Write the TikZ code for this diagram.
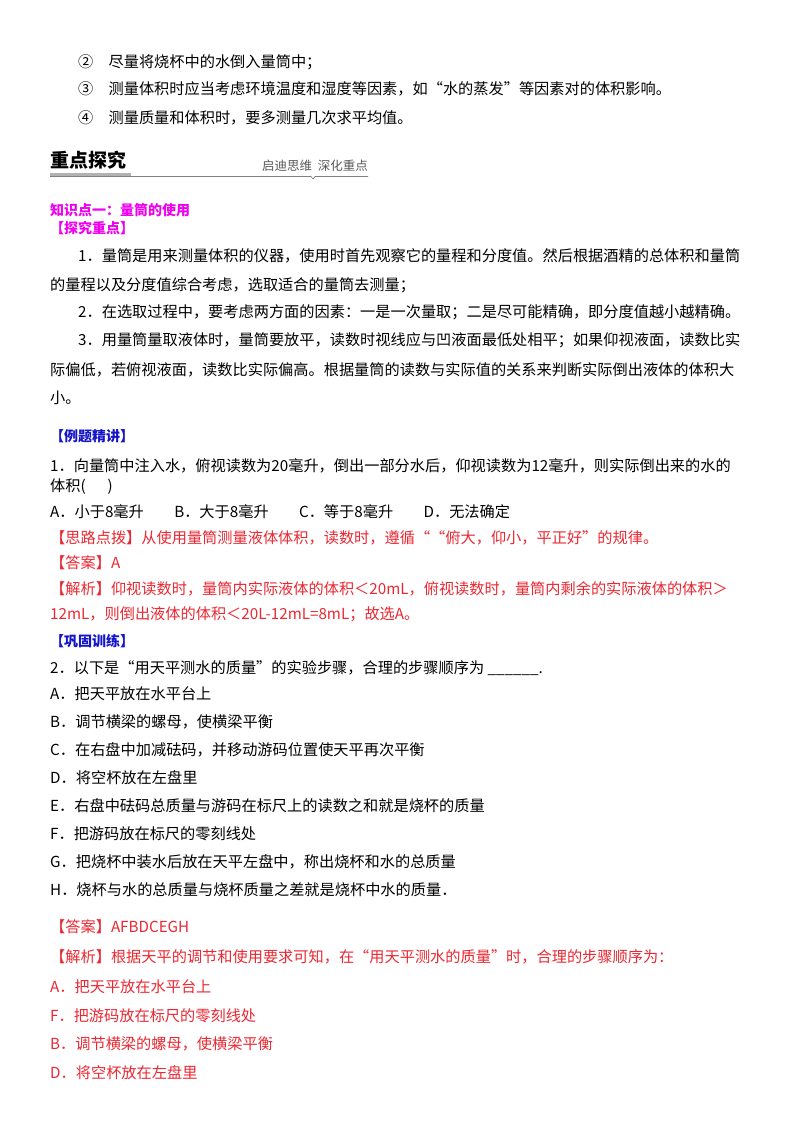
\documentclass[tikz,border=0pt]{standalone}
\usepackage{fontspec}
\setmainfont{Noto Sans CJK SC}
\definecolor{mag}{RGB}{240,0,240}
\definecolor{blu}{RGB}{20,20,200}
\definecolor{rd}{RGB}{235,40,50}
\begin{document}
\begin{tikzpicture}[x=1pt,y=-1pt,
 t/.style={anchor=base west,inner sep=0pt,font=\fontsize{15.2}{16}\selectfont},
 b/.style={t,font=\fontsize{14}{15}\selectfont\bfseries}]
\useasboundingbox[fill=white] (0,0) rectangle (800,1132);
\node[t] (l1) at (78,67) {②\quad 尽量将烧杯中的水倒入量筒中；};
\node[t] (l2) at (78,95) {③\quad 测量体积时应当考虑环境温度和湿度等因素，如“水的蒸发”等因素对的体积影响。};
\node[t] (l3) at (78,123) {④\quad 测量质量和体积时，要多测量几次求平均值。};
\node[anchor=base west,inner sep=0pt,font=\fontsize{19}{20}\selectfont\bfseries] (h) at (50,167) {重点探究};
\node[anchor=base east,inner sep=0pt,font=\fontsize{12.5}{13}\selectfont,text=gray!70!black] (h2) at (368,170) {启迪思维\ \ 深化重点};
\fill[gray!60] (50,173) rectangle (131,176);
\draw[gray,line width=0.6pt] (50,176.5) -- (311,176.5) -- (313,179) -- (315,176.5) -- (368,176.5);
\node[b,text=mag] (k) at (50,215) {知识点一：量筒的使用};
\node[b,text=mag] (k2) at (50,233) {【探究重点】};
\node[t] (p1) at (78,261) {1．量筒是用来测量体积的仪器，使用时首先观察它的量程和分度值。然后根据酒精的总体积和量筒};
\node[t] (p1b) at (50,290) {的量程以及分度值综合考虑，选取适合的量筒去测量；};
\node[t] (p2) at (78,317) {2．在选取过程中，要考虑两方面的因素：一是一次量取；二是尽可能精确，即分度值越小越精确。};
\node[t] (p3) at (78,345) {3．用量筒量取液体时，量筒要放平，读数时视线应与凹液面最低处相平；如果仰视液面，读数比实};
\node[t] (p3b) at (50,375) {际偏低，若俯视液面，读数比实际偏高。根据量筒的读数与实际值的关系来判断实际倒出液体的体积大};
\node[t] (p3c) at (50,403) {小。};
\node[b,text=blu] (e) at (50,441) {【例题精讲】};
\node[t] (q1) at (50,471) {1．向量筒中注入水，俯视读数为20毫升，倒出一部分水后，仰视读数为12毫升，则实际倒出来的水的};
\node[t] (q1b) at (50,491) {体积(\quad\ \ )};
\node[t] (q1c) at (50,517) {A．小于8毫升\qquad B．大于8毫升\qquad C．等于8毫升\qquad D．无法确定};
\begin{scope}[every node/.append style={text=rd}]
\node[t] (s1) at (50,543) {【思路点拨】从使用量筒测量液体体积，读数时，遵循““俯大，仰小，平正好”的规律。};
\node[t] (s2) at (50,568) {【答案】A};
\node[t] (s3) at (50,594) {【解析】仰视读数时，量筒内实际液体的体积＜20mL，俯视读数时，量筒内剩余的实际液体的体积＞};
\node[t] (s4) at (50,619) {12mL，则倒出液体的体积＜20L-12mL=8mL；故选A。};
\end{scope}
\node[b,text=blu] (g) at (50,646) {【巩固训练】};
\node[t] (r0) at (50,673) {2．以下是“用天平测水的质量”的实验步骤，合理的步骤顺序为 \_\_\_\_\_\_.};
\node[t] (rA) at (50,699) {A．把天平放在水平台上};
\node[t] (rB) at (50,727) {B．调节横梁的螺母，使横梁平衡};
\node[t] (rC) at (50,755) {C．在右盘中加减砝码，并移动游码位置使天平再次平衡};
\node[t] (rD) at (50,783) {D．将空杯放在左盘里};
\node[t] (rE) at (50,811) {E．右盘中砝码总质量与游码在标尺上的读数之和就是烧杯的质量};
\node[t] (rF) at (50,839) {F．把游码放在标尺的零刻线处};
\node[t] (rG) at (50,867) {G．把烧杯中装水后放在天平左盘中，称出烧杯和水的总质量};
\node[t] (rH) at (50,895) {H．烧杯与水的总质量与烧杯质量之差就是烧杯中水的质量．};
\begin{scope}[every node/.append style={text=rd}]
\node[t] (a1) at (50,932) {【答案】AFBDCEGH};
\node[t] (a2) at (50,962) {【解析】根据天平的调节和使用要求可知，在“用天平测水的质量”时，合理的步骤顺序为：};
\node[t] (a3) at (50,992) {A．把天平放在水平台上};
\node[t] (a4) at (50,1021) {F．把游码放在标尺的零刻线处};
\node[t] (a5) at (50,1049) {B．调节横梁的螺母，使横梁平衡};
\node[t] (a6) at (50,1078) {D．将空杯放在左盘里};
\end{scope}
\end{tikzpicture}
\end{document}
